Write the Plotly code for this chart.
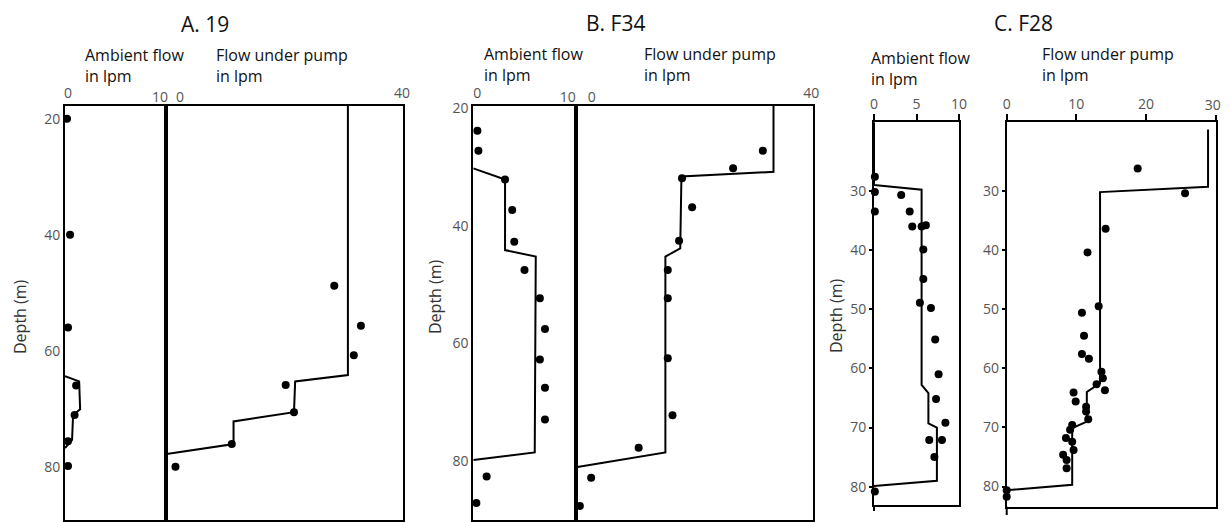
import plotly.graph_objects as go

# ---------------- data (flow in lpm, depth in m) ----------------
# A. 19
a_amb_line_flow = [0, 1.4, 1.5, 0.8, 0.7, 0]
a_amb_line_depth = [64.4, 65.3, 70.1, 71.1, 75.4, 76.8]
a_amb_pt_flow = [0.2, 0.5, 0.3, 1.1, 0.95, 0.3, 0.3]
a_amb_pt_depth = [20.0, 40.0, 56.0, 66.0, 71.1, 75.6, 79.9]
a_pump_line_flow = [30.7, 30.7, 21.8, 21.6, 11.4, 11.4, 0.1]
a_pump_line_depth = [17.8, 64.2, 65.3, 70.6, 72.2, 76.1, 77.8]
a_pump_pt_flow = [28.4, 32.9, 31.7, 20.2, 21.6, 11.1, 1.6]
a_pump_pt_depth = [48.8, 55.7, 60.8, 65.9, 70.6, 76.1, 80.0]

# B. F34
b_amb_line_flow = [0, 3.1, 3.1, 6.1, 6.0, 0]
b_amb_line_depth = [30.2, 32.1, 44.1, 45.2, 78.5, 79.8]
b_amb_pt_flow = [0.4, 0.5, 3.1, 3.8, 4.0, 5.0, 6.5, 7.0, 6.5, 7.0, 7.0, 1.3, 0.3]
b_amb_pt_depth = [23.8, 27.2, 32.1, 37.3, 42.7, 47.5, 52.3, 57.5, 62.7, 67.5, 72.9, 82.6, 87.1]
b_pump_line_flow = [33.3, 33.3, 17.8, 17.6, 15.1, 15.1, 0.3]
b_pump_line_depth = [19.6, 30.8, 31.6, 43.8, 45.2, 78.5, 81.0]
b_pump_pt_flow = [31.5, 26.5, 17.9, 19.6, 17.4, 15.5, 15.5, 15.5, 16.3, 10.6, 2.6, 0.7]
b_pump_pt_depth = [27.2, 30.2, 31.9, 36.8, 42.5, 47.5, 52.3, 62.5, 72.2, 77.7, 82.8, 87.6]

# C. F28
c_amb_line_flow = [0, 0, 5.6, 5.6, 6.4, 6.4, 7.4, 7.4, 0]
c_amb_line_depth = [18.4, 29.0, 29.8, 62.8, 64.2, 69.3, 70.0, 79.0, 79.9]
c_amb_pt_flow = [0.1, 0.1, 0.1, 3.2, 4.2, 4.5, 5.6, 6.1, 5.8, 5.8, 5.4, 6.7, 7.2, 7.6,
                 7.3, 8.4, 6.5, 8.0, 7.1, -0.3, 0.1]
c_amb_pt_depth = [27.6, 30.2, 33.5, 30.7, 33.5, 36.0, 36.0, 35.8, 39.9, 44.9, 48.9, 49.8, 55.1, 61.0,
                  65.2, 69.2, 72.1, 72.1, 75.0, 81.6, 80.8]
c_pump_line_flow = [28.9, 28.9, 13.4, 13.4, 11.5, 11.5, 9.4, 9.4, 0]
c_pump_line_depth = [19.6, 29.3, 30.2, 62.5, 64.0, 69.0, 70.1, 79.7, 80.6]
c_pump_pt_flow = [18.8, 25.6, 14.2, 11.6, 13.2, 10.8, 11.1, 10.8, 11.8, 13.6, 13.8, 12.9, 14.1, 9.6,
                  9.9, 11.4, 11.4, 11.7, 9.4, 9.1, 8.5, 9.4, 9.6, 8.1, 8.6, 8.6, 0, 0]
c_pump_pt_depth = [26.2, 30.4, 36.4, 40.4, 49.5, 50.6, 54.5, 57.6, 58.4, 60.6, 61.7, 62.7, 63.7, 64.1,
                   65.6, 66.5, 67.3, 68.6, 69.6, 70.4, 71.8, 72.4, 73.8, 74.6, 75.5, 76.9, 80.6, 81.7]

titles = ["A. 19", "B. F34", "C. F28"]
amb_label = "Ambient flow<br>in lpm"
pump_label = "Flow under pump<br>in lpm"
depth_label = "Depth (m)"

# ---------------- layout helpers ----------------
W, H = 1231, 522
FONT = "Open Sans"
TICKFONT = dict(family=FONT, size=14, color="#555555")


def fx(px):
    return px / W


def fy(py):
    return 1 - py / H


def xaxis(x0, x1, rng, tickvals, anchor, ticks="", shift=0, line=True, overlay=None):
    d = dict(domain=[fx(x0), fx(x1)], range=rng, side="top", anchor=anchor,
             showline=line, linecolor="black", linewidth=2, mirror=line,
             showgrid=False, zeroline=False, tickvals=tickvals,
             ticks=ticks, ticklen=6, tickwidth=1.5, tickcolor="black",
             tickfont=TICKFONT, fixedrange=True, automargin=False,
             ticklabelshift=shift, ticklabeloverflow="allow")
    if overlay:
        d["overlaying"] = overlay
    return d


def yaxis(y0, y1, rng, tickvals, anchor, labels=True, ticks=""):
    return dict(domain=[fy(y1), fy(y0)], range=[rng[1], rng[0]], anchor=anchor,
                showline=True, linecolor="black", linewidth=2, mirror=True,
                showgrid=False, zeroline=False, tickvals=tickvals,
                showticklabels=labels, ticks=ticks, ticklen=3, tickwidth=1.5,
                tickcolor="black", tickfont=TICKFONT, fixedrange=True,
                automargin=False)


fig = go.Figure()

panels = [
    (a_amb_line_flow, a_amb_line_depth, a_amb_pt_flow, a_amb_pt_depth, "x", "y"),
    (a_pump_line_flow, a_pump_line_depth, a_pump_pt_flow, a_pump_pt_depth, "x2", "y2"),
    (b_amb_line_flow, b_amb_line_depth, b_amb_pt_flow, b_amb_pt_depth, "x3", "y3"),
    (b_pump_line_flow, b_pump_line_depth, b_pump_pt_flow, b_pump_pt_depth, "x4", "y4"),
    (c_amb_line_flow, c_amb_line_depth, c_amb_pt_flow, c_amb_pt_depth, "x5", "y5"),
    (c_pump_line_flow, c_pump_line_depth, c_pump_pt_flow, c_pump_pt_depth, "x6", "y6"),
]
for lf, ld, pf, pd_, xa, ya in panels:
    fig.add_trace(go.Scatter(x=lf, y=ld, mode="lines", xaxis=xa, yaxis=ya,
                             line=dict(color="black", width=2), hoverinfo="skip"))
    fig.add_trace(go.Scatter(x=pf, y=pd_, mode="markers", xaxis=xa, yaxis=ya,
                             marker=dict(color="black", size=8), cliponaxis=False))

# empty traces so the label-only axes are drawn
for xa, ya in [("x7", "y"), ("x8", "y2"), ("x9", "y3"), ("x10", "y4"), ("x11", "y6")]:
    fig.add_trace(go.Scatter(x=[None], y=[None], mode="markers", xaxis=xa, yaxis=ya,
                             hoverinfo="skip"))

C_PUMP_SCALE = 209.0 / 30.0  # px per lpm in panel C pump axis

fig.update_layout(
    width=W, height=H, margin=dict(l=0, r=0, t=0, b=0),
    paper_bgcolor="white", plot_bgcolor="rgba(0,0,0,0)", showlegend=False,
    xaxis=xaxis(65, 166, [0, 10], [0], "y", shift=3),
    yaxis=yaxis(106, 520, [17.8, 89.2], [20, 40, 60, 80], "x"),
    xaxis2=xaxis(166, 403, [0, 40], [40], "y2", shift=-1),
    yaxis2=yaxis(106, 520, [17.8, 89.2], [20, 40, 60, 80], "x2", labels=False),
    xaxis3=xaxis(473.3, 575.7, [0, 10], [0], "y3", shift=4),
    yaxis3=yaxis(106, 520, [19.6, 90.0], [20, 40, 60, 80], "x3"),
    xaxis4=xaxis(575.7, 813.3, [0, 40], [40], "y4", shift=-2),
    yaxis4=yaxis(106, 520, [19.6, 90.0], [20, 40, 60, 80], "x4", labels=False),
    xaxis5=xaxis(874, 959, [0, 10], [0, 5, 10], "y5", ticks="outside"),
    yaxis5=yaxis(122.3, 505, [18.4, 83.1], [30, 40, 50, 60, 70, 80], "x5", ticks="outside"),
    xaxis6=xaxis(1006.7, 1215.7, [0, 30], [0, 10, 20], "y6", ticks="outside"),
    yaxis6=yaxis(122.3, 506.7, [18.4, 83.4], [30, 40, 50, 60, 70, 80], "x6", ticks="outside"),
    # overlay axes carrying the nudged end labels
    xaxis7=xaxis(65, 166, [0, 10], [10], "y", shift=-6, line=False, overlay="x"),
    xaxis8=xaxis(166, 403, [0, 40], [0], "y2", shift=14, line=False, overlay="x2"),
    xaxis9=xaxis(473.3, 575.7, [0, 10], [10], "y3", shift=-8, line=False, overlay="x3"),
    xaxis10=xaxis(575.7, 813.3, [0, 40], [0], "y4", shift=16, line=False, overlay="x4"),
    # same scale as xaxis6, slightly longer, carrying the "30" tick and label
    xaxis11=xaxis(1006.7, 1006.7 + 31 * C_PUMP_SCALE, [0, 31], [30], "y6",
                  ticks="outside", shift=-3, line=False),
)

# axis-line extensions below the boxes in panel C
fig.add_shape(type="line", xref="paper", yref="paper", x0=fx(874), x1=fx(874),
              y0=fy(505), y1=fy(511), line=dict(color="black", width=2))
fig.add_shape(type="line", xref="paper", yref="paper", x0=fx(1006.7), x1=fx(1006.7),
              y0=fy(506.7), y1=fy(515), line=dict(color="black", width=2))

# titles and axis labels
title_pos = [(205, 24), (615, 23), (1023, 23)]
for t, (px, py) in zip(titles, title_pos):
    fig.add_annotation(text=t, x=fx(px), y=fy(py), xref="paper", yref="paper",
                       xanchor="center", yanchor="middle", showarrow=False,
                       font=dict(family=FONT, size=21, color="#111111"))

sub_pos = [(83, 66, amb_label), (214, 66, pump_label), (482, 65, amb_label),
           (642, 64, pump_label), (869, 68, amb_label), (1040, 65, pump_label)]
for px, py, t in sub_pos:
    fig.add_annotation(text=t, x=fx(px), y=fy(py), xref="paper", yref="paper",
                       xanchor="left", yanchor="middle", align="left", showarrow=False,
                       font=dict(family=FONT, size=16, color="#111111"))

depth_pos = [(20, 316), (435, 297), (836, 316)]
for px, py in depth_pos:
    fig.add_annotation(text=depth_label, x=fx(px), y=fy(py), xref="paper", yref="paper",
                       xanchor="center", yanchor="middle", textangle=-90, showarrow=False,
                       font=dict(family=FONT, size=16, color="#333333"))

fig.write_html(
    "out.html",
    config={"displayModeBar": False},
    post_script="document.body.style.margin='0px';document.body.style.overflow='hidden';",
)
